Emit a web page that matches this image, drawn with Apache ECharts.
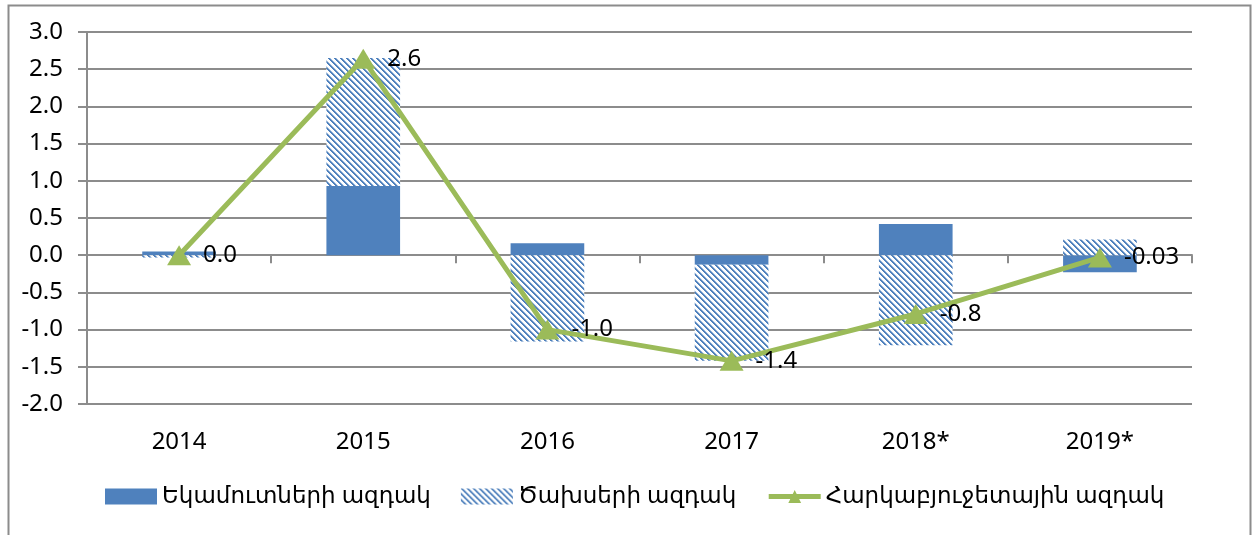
<!DOCTYPE html>
<html>
<head>
<meta charset="utf-8">
<script src="https://cdn.jsdelivr.net/npm/echarts@6/dist/echarts.min.js"></script>
<style>
html,body{margin:0;padding:0;background:#fff;}
#chart{width:1254px;height:535px;}
</style>
</head>
<body>
<div id="chart"></div>
<script>
const categories = ['2014', '2015', '2016', '2017', '2018*', '2019*'];
const revenueImpulse = [0.05, 0.93, 0.16, -0.13, 0.42, -0.23];
const expenditureImpulse = [-0.03, 1.72, -1.16, -1.29, -1.21, 0.21];
const fiscalImpulse = [0.0, 2.64, -1.0, -1.42, -0.79, -0.03];
const fiscalLabels = ['0.0', '2.6', '-1.0', '-1.4', '-0.8', '-0.03'];
const seriesNames = ['Եկամուտների ազդակ', 'Ծախսերի ազդակ', 'Հարկաբյուջետային ազդակ'];

const FONT = '"Noto Sans", "DejaVu Sans", sans-serif';
const BLUE = '#4F81BD';
const GREEN = '#9BBB59';
const GRID = '#8C8C8C';

function makeStripe() {
  const n = 6;
  const c = document.createElement('canvas');
  c.width = n; c.height = n;
  const ctx = c.getContext('2d');
  const img = ctx.createImageData(n, n);
  for (let y = 0; y < n; y++) {
    for (let x = 0; x < n; x++) {
      const d = ((x - y) % n + n) % n;
      const i = (y * n + x) * 4;
      let r = 255, g = 255, b = 255;
      if (d === 0 || d === 1) { r = 0x4F; g = 0x81; b = 0xBD; }
      if (d === 2) { r = 0xA7; g = 0xC0; b = 0xDE; }
      img.data[i] = r; img.data[i + 1] = g; img.data[i + 2] = b; img.data[i + 3] = 255;
    }
  }
  ctx.putImageData(img, 0, 0);
  return c;
}
const stripe = { image: makeStripe(), repeat: 'repeat' };

const chart = echarts.init(document.getElementById('chart'), null, { renderer: 'canvas' });
chart.setOption({
  animation: false,
  backgroundColor: '#fff',
  textStyle: { fontFamily: FONT },
  graphic: [{
    type: 'rect', left: 6, top: 3, shape: { x: 0, y: 0, width: 1242, height: 545 },
    style: { fill: null, stroke: GRID, lineWidth: 2 }, silent: true, z: -1
  }],
  grid: { left: 87, right: 62, top: 32, bottom: 131, containLabel: false },
  legend: {
    bottom: 22, left: 100, itemGap: 30, itemWidth: 52, itemHeight: 16,
    textStyle: { fontSize: 23, color: '#000', fontFamily: FONT },
    data: [
      { name: seriesNames[0], icon: 'rect' },
      { name: seriesNames[1], icon: 'rect' },
      { name: seriesNames[2], lineStyle: { width: 5 } }
    ]
  },
  xAxis: [{
    type: 'category', data: categories, position: 'bottom',
    axisLine: { show: false, onZero: false }, axisTick: { show: false },
    axisLabel: { fontSize: 24, color: '#000', margin: 26, fontFamily: FONT }
  }, {
    type: 'category', data: categories, position: 'bottom',
    axisLine: { show: true, onZero: true, lineStyle: { color: GRID, width: 2 } },
    axisTick: { show: true, length: 8, lineStyle: { color: GRID, width: 2 } },
    axisLabel: { show: false }
  }],
  yAxis: {
    type: 'value', min: -2, max: 3, interval: 0.5,
    axisLine: { show: true, lineStyle: { color: GRID, width: 2 } },
    axisTick: { show: true, length: 9, lineStyle: { color: GRID, width: 2 } },
    splitLine: { show: true, lineStyle: { color: GRID, width: 2 } },
    axisLabel: { fontSize: 24, color: '#000', margin: 24, fontFamily: FONT, formatter: v => v.toFixed(1) }
  },
  series: [{
    name: seriesNames[0], type: 'bar', stack: 'impulse', xAxisIndex: 0,
    data: revenueImpulse, barWidth: '40%', itemStyle: { color: BLUE }
  }, {
    name: seriesNames[1], type: 'bar', stack: 'impulse', xAxisIndex: 0,
    data: expenditureImpulse, barWidth: '40%', itemStyle: { color: stripe }
  }, {
    name: seriesNames[2], type: 'line', xAxisIndex: 0,
    data: fiscalImpulse, symbol: 'triangle', symbolSize: [24, 20],
    lineStyle: { color: GREEN, width: 5 }, itemStyle: { color: GREEN },
    z: 5,
    label: {
      show: true, position: 'right', distance: 12, fontSize: 24, color: '#000', fontFamily: FONT,
      formatter: p => fiscalLabels[p.dataIndex]
    }
  }]
});
</script>
</body>
</html>
